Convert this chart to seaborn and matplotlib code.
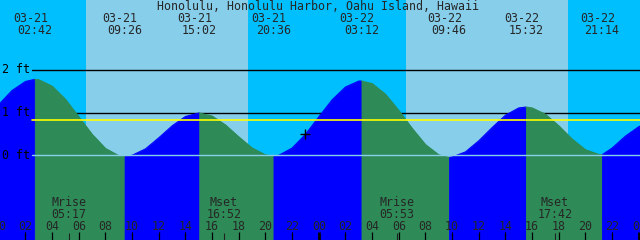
import matplotlib
matplotlib.use("Agg")
import matplotlib.pyplot as plt
import matplotlib.transforms as mtrans
import seaborn as sns
import pandas as pd
import numpy as np

# ---------------- data ----------------
title = "Honolulu, Honolulu Harbor, Oahu Island, Hawaii"
days = ["03-21", "03-22"]

# tide extremes (date index, time label, level ft)
ext_day = [0, 0, 0, 0, 1, 1, 1, 1]
ext_time = ["02:42", "09:26", "15:02", "20:36", "03:12", "09:46", "15:32", "21:14"]
ext_level = [1.78, -0.03, 0.99, -0.02, 1.74, -0.05, 1.13, 0.01]

# hourly tide heights (ft), hours 0..49 after 03-21 00:00
hourly_level = [1.19, 1.52, 1.73, 1.77, 1.62, 1.31, 0.90, 0.49, 0.16, -0.01,
                0.00, 0.15, 0.41, 0.69, 0.91, 0.99, 0.92, 0.71, 0.43, 0.17,
                0.01, 0.00, 0.17, 0.49, 0.90, 1.30, 1.60, 1.74, 1.68, 1.43,
                1.05, 0.63, 0.25, 0.01, -0.04, 0.08, 0.34, 0.65, 0.94, 1.11,
                1.11, 0.96, 0.69, 0.38, 0.13, 0.02, 0.17, 0.45, 0.67, 0.82]

# sun (daylight periods)
sunrise = ["06:32", "06:32"]
sunset = ["18:41", "18:41"]

# moon events
moon_day = [0, 0, 1, 1]
moon_kind = ["Mrise", "Mset", "Mrise", "Mset"]
moon_time = ["05:17", "16:52", "05:53", "17:42"]

yellow_level = 0.82
grid_levels = [2, 1]
now_time = ("03-21", "22:58")
now_level = 0.49

hour_ticks = list(range(0, 50, 2))


def to_h(day, s):
    hh, mm = s.split(":")
    return day * 24 + int(hh) + int(mm) / 60.0


ext_h = [to_h(d, s) for d, s in zip(ext_day, ext_time)]
moon_h = [to_h(d, s) for d, s in zip(moon_day, moon_time)]
rise_h = [to_h(i, s) for i, s in enumerate(sunrise)]
set_h = [to_h(i, s) for i, s in enumerate(sunset)]

# ------------- geometry -------------
W, H = 640, 240
px_per_h = 320 / 24.0
h0 = 0.09
x0, x1 = h0, h0 + W / px_per_h
y0_px, ft_px = 155.3, 42.67
ylo = (y0_px - H) / ft_px
yhi = y0_px / ft_px

NIGHT = "#00BFFF"
DAY = "#87CEEB"
RISE = "#0000FF"
FALL = "#2E8B57"

sns.set_style("white")
plt.rcParams["font.family"] = ["DejaVu Sans Mono"]
FS = 8.4

fig = plt.figure(figsize=(6.4, 2.4), dpi=100, facecolor=NIGHT)
ax = fig.add_axes([0, 0, 1, 1])
ax.set_facecolor(NIGHT)
ax.set_xlim(x0, x1)
ax.set_ylim(ylo, yhi)
for s in ax.spines.values():
    s.set_visible(False)
ax.set_xticks([])
ax.set_yticks([])

trans = mtrans.blended_transform_factory(ax.transData, ax.transAxes)

def fy(ypx):
    return 1 - ypx / H

# daylight
for r, s in zip(rise_h, set_h):
    ax.axvspan(r, s, color=DAY, lw=0, zorder=0)

# black datum lines (behind water)
lx = 32 / W
for g in grid_levels:
    ax.axhline(g, xmin=lx, xmax=1, color="black", lw=1.0, zorder=1)

# tide curve with segments
df = pd.DataFrame({"t": np.arange(len(hourly_level), dtype=float), "lvl": hourly_level})
df = pd.concat([df, pd.DataFrame({"t": ext_h, "lvl": ext_level})]).sort_values("t").reset_index(drop=True)
bounds = [df.t.min()] + ext_h + [df.t.max()]
rows = []
for k in range(len(bounds) - 1):
    seg = df[(df.t >= bounds[k]) & (df.t <= bounds[k + 1])]
    rising = seg.lvl.iloc[-1] > seg.lvl.iloc[0]
    for t, l in zip(seg.t, seg.lvl):
        rows.append({"t": t, "lvl": l, "seg": k, "dir": "rise" if rising else "fall"})
segdf = pd.DataFrame(rows)
for k, seg in segdf.groupby("seg"):
    c = RISE if seg["dir"].iloc[0] == "rise" else FALL
    ax.fill_between(seg.t, seg.lvl, ylo, color=c, lw=0.6, edgecolor=c, zorder=2)
sns.lineplot(data=segdf, x="t", y="lvl", hue="dir", units="seg", estimator=None,
             palette={"rise": RISE, "fall": FALL}, lw=0.8, legend=False, ax=ax, zorder=3)
ax.set_xlabel("")
ax.set_ylabel("")
ax.set_xlim(x0, x1)
ax.set_ylim(ylo, yhi)

# lines over water
ax.axhline(yellow_level, xmin=lx, xmax=1, color="#FFFF00", lw=1.2, zorder=4)
ax.axhline(0, xmin=lx, xmax=1, color=DAY, lw=1.0, zorder=4)

# level labels
for g in [2, 1, 0]:
    ax.text(2 / W, g, f"{g} ft", transform=mtrans.blended_transform_factory(ax.transAxes, ax.transData),
            ha="left", va="center", fontsize=FS, color="black", zorder=6)

# now marker
now_h = to_h(days.index(now_time[0]), now_time[1])
ax.plot([now_h], [now_level], marker="+", color="black", ms=7, mew=1.0, zorder=6)

# title
ax.text(0.4975, fy(6), title, transform=ax.transAxes, ha="center", va="center", fontsize=FS, zorder=6)

# extremes labels
for d, s, h in zip(ext_day, ext_time, ext_h):
    ax.text(h - 4.5 / px_per_h, fy(18.5), days[d], transform=trans, ha="center", va="center", fontsize=FS, zorder=6)
    ax.text(h, fy(30), s, transform=trans, ha="center", va="center", fontsize=FS, zorder=6)

# hour ticks
for h in hour_ticks:
    ax.text(h, fy(226), f"{h % 24:02d}", transform=trans, ha="center", va="center", fontsize=FS, zorder=6, clip_on=False)
    ax.plot([h, h], [fy(232), fy(240)], transform=trans, color="black",
            lw=2.0 if h % 24 == 0 else 0.9, zorder=6, solid_capstyle="butt")

# moon events
for k, s, h in zip(moon_kind, moon_time, moon_h):
    ax.text(h, fy(202.5), k, transform=trans, ha="center", va="center", fontsize=FS, zorder=6)
    ax.text(h, fy(214), s, transform=trans, ha="center", va="center", fontsize=FS, zorder=6)
    ax.plot([h, h], [fy(233), fy(240)], transform=trans, color="#202020", lw=0.8, zorder=6, solid_capstyle="butt")

fig.savefig("out.png", dpi=100, facecolor=NIGHT)
